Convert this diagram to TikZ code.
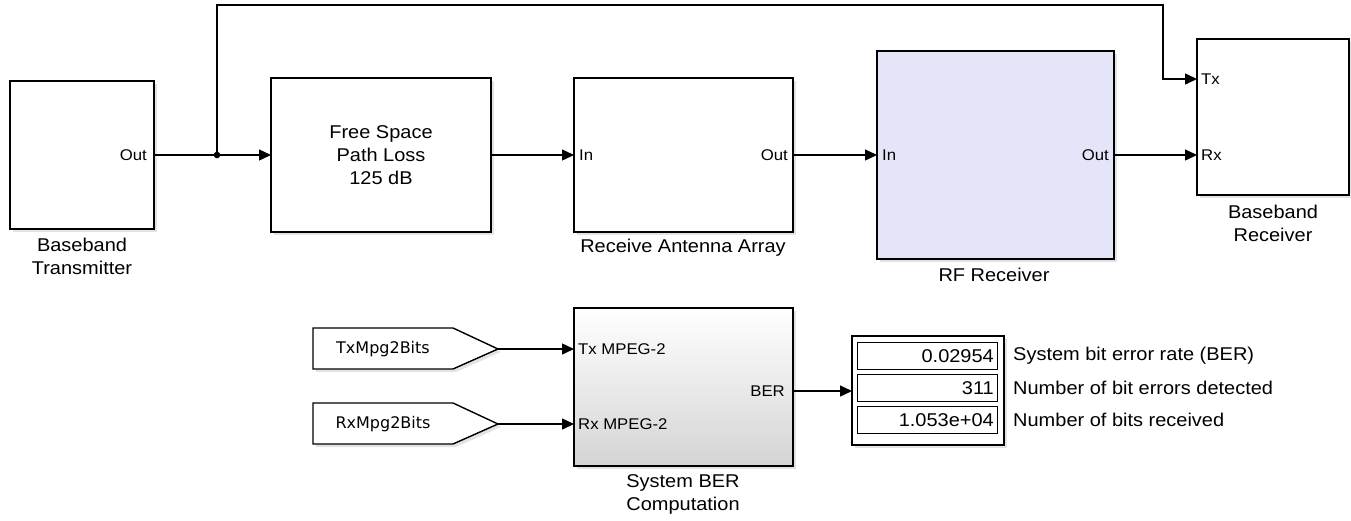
\documentclass[tikz,border=0pt]{standalone}
\usepackage{fontspec}
\setmainfont{Liberation Sans}[FakeStretch=1.08]
\newfontfamily\tagfont{DejaVu Sans}
\usetikzlibrary{arrows.meta,shadows,calc}
\definecolor{rfblue}{RGB}{229,229,250}
\definecolor{bergray}{RGB}{212,212,212}
\begin{document}
\begin{tikzpicture}[x=1pt,y=-1pt,
  every node/.style={font=\fontsize{18.5}{23}\selectfont, inner sep=0pt},
  softshadow/.style={drop shadow={shadow xshift=3pt, shadow yshift=-3pt, opacity=0.22}},
  block/.style={draw=black, line width=1.4pt, fill=white, anchor=north west, outer sep=0pt, softshadow},
  port/.style={font=\fontsize{15.5}{18}\selectfont},
  lbl/.style={align=center},
  wire/.style={line width=1.4pt, -{Triangle[length=12pt,width=11pt]}},
  plain/.style={line width=1.4pt},
  field/.style={draw=black, line width=1pt, anchor=north west, minimum width=140pt, minimum height=27pt}
]
\useasboundingbox (0,0) rectangle (1351,520);

% top row blocks
\node[block, minimum width=144pt, minimum height=148pt] (bt) at (10,81) {};
\node[block, minimum width=220pt, minimum height=154pt] (fs) at (271,78) {};
\node[align=center] (fstxt) at (fs.center) {Free Space\\Path Loss\\125 dB};
\node[block, minimum width=219pt, minimum height=154pt] (ra) at (574,78) {};
\node[block, fill=rfblue, minimum width=237pt, minimum height=208pt] (rf) at (877,51) {};
\node[block, minimum width=152pt, minimum height=156pt] (br) at (1197,39) {};

% port labels
\node[port, anchor=east] (btout) at ($(bt.east)+(-7,0)$) {Out};
\node[port, anchor=west] (rain) at ($(ra.west)+(5,0)$) {In};
\node[port, anchor=east] (raout) at ($(ra.east)+(-5,0)$) {Out};
\node[port, anchor=west] (rfin) at ($(rf.west)+(5,0)$) {In};
\node[port, anchor=east] (rfout) at ($(rf.east)+(-5,0)$) {Out};
\coordinate (brtx) at (br.west |- 0,79);
\coordinate (brrx) at (br.west |- rf.east);
\node[port, anchor=west] (brtxl) at ($(brtx)+(4,0)$) {Tx};
\node[port, anchor=west] (brrxl) at ($(brrx)+(4,0)$) {Rx};

% block labels
\node[lbl] (btl) at (82,256.5) {Baseband\\Transmitter};
\node[lbl] (ral) at (683,248) {Receive Antenna Array};
\node[lbl] (rfl) at (994,275) {RF Receiver};
\node[lbl] (brl) at (1273,223) {Baseband\\Receiver};

% top row wires
\coordinate (jn) at (bt.east -| 217,0);
\draw[wire] (bt.east) -- (fs.west);
\fill (jn) circle (3.3pt);
\draw[wire] (fs.east) -- (ra.west);
\draw[wire] (ra.east) -- (rf.west);
\draw[wire] (rf.east) -- (brrx);
\draw[wire] (jn) -- (jn |- 0,5) -- (1163,5) -- (1163,79) -- (brtx);

% bottom: tags
\draw[plain, fill=white, softshadow]
  (313,328) -- (453,328) -- (498,349) -- (453,369) -- (313,369) -- cycle;
\draw[plain, fill=white, softshadow]
  (313,403) -- (453,403) -- (498,424) -- (453,444) -- (313,444) -- cycle;
\node[font=\tagfont\fontsize{16}{19}\selectfont] (txtag) at (383,349) {TxMpg2Bits};
\node[font=\tagfont\fontsize{16}{19}\selectfont] (rxtag) at (383,424) {RxMpg2Bits};
\coordinate (txtip) at (498,349);
\coordinate (rxtip) at (498,424);

% BER block
\node[block, top color=white, bottom color=bergray, minimum width=219pt, minimum height=158pt] (ber) at (574,308) {};
\coordinate (bertx) at (ber.west |- txtip);
\coordinate (berrx) at (ber.west |- rxtip);
\coordinate (berout) at (ber.east |- 0,391);
\node[port, anchor=west] (bertxl) at ($(bertx)+(4,0)$) {Tx MPEG-2};
\node[port, anchor=west] (berrxl) at ($(berrx)+(4,0)$) {Rx MPEG-2};
\node[port, anchor=east] (beroutl) at ($(berout)+(-8,0)$) {BER};
\node[lbl] (berl) at (683,494) {System BER\\Computation};
\draw[wire] (txtip) -- (bertx);
\draw[wire] (rxtip) -- (berrx);

% display
\node[block, minimum width=152pt, minimum height=109pt] (disp) at (852,336) {};
\node[field] (f1) at (857,342) {};
\node[field] (f2) at (857,374) {};
\node[field] (f3) at (857,406) {};
\node[anchor=east] (v1) at ($(f1.east)+(-4,0)$) {0.02954};
\node[anchor=east] (v2) at ($(f2.east)+(-4,0)$) {311};
\node[anchor=east] (v3) at ($(f3.east)+(-4,0)$) {1.053e+04};
\node[anchor=west] (d1) at (1013,355.5) {System bit error rate (BER)};
\node[anchor=west] (d2) at (1013,387.5) {Number of bit errors detected};
\node[anchor=west] (d3) at (1013,419.5) {Number of bits received};
\draw[wire] (berout) -- (disp.west |- berout);
\end{tikzpicture}
\end{document}
